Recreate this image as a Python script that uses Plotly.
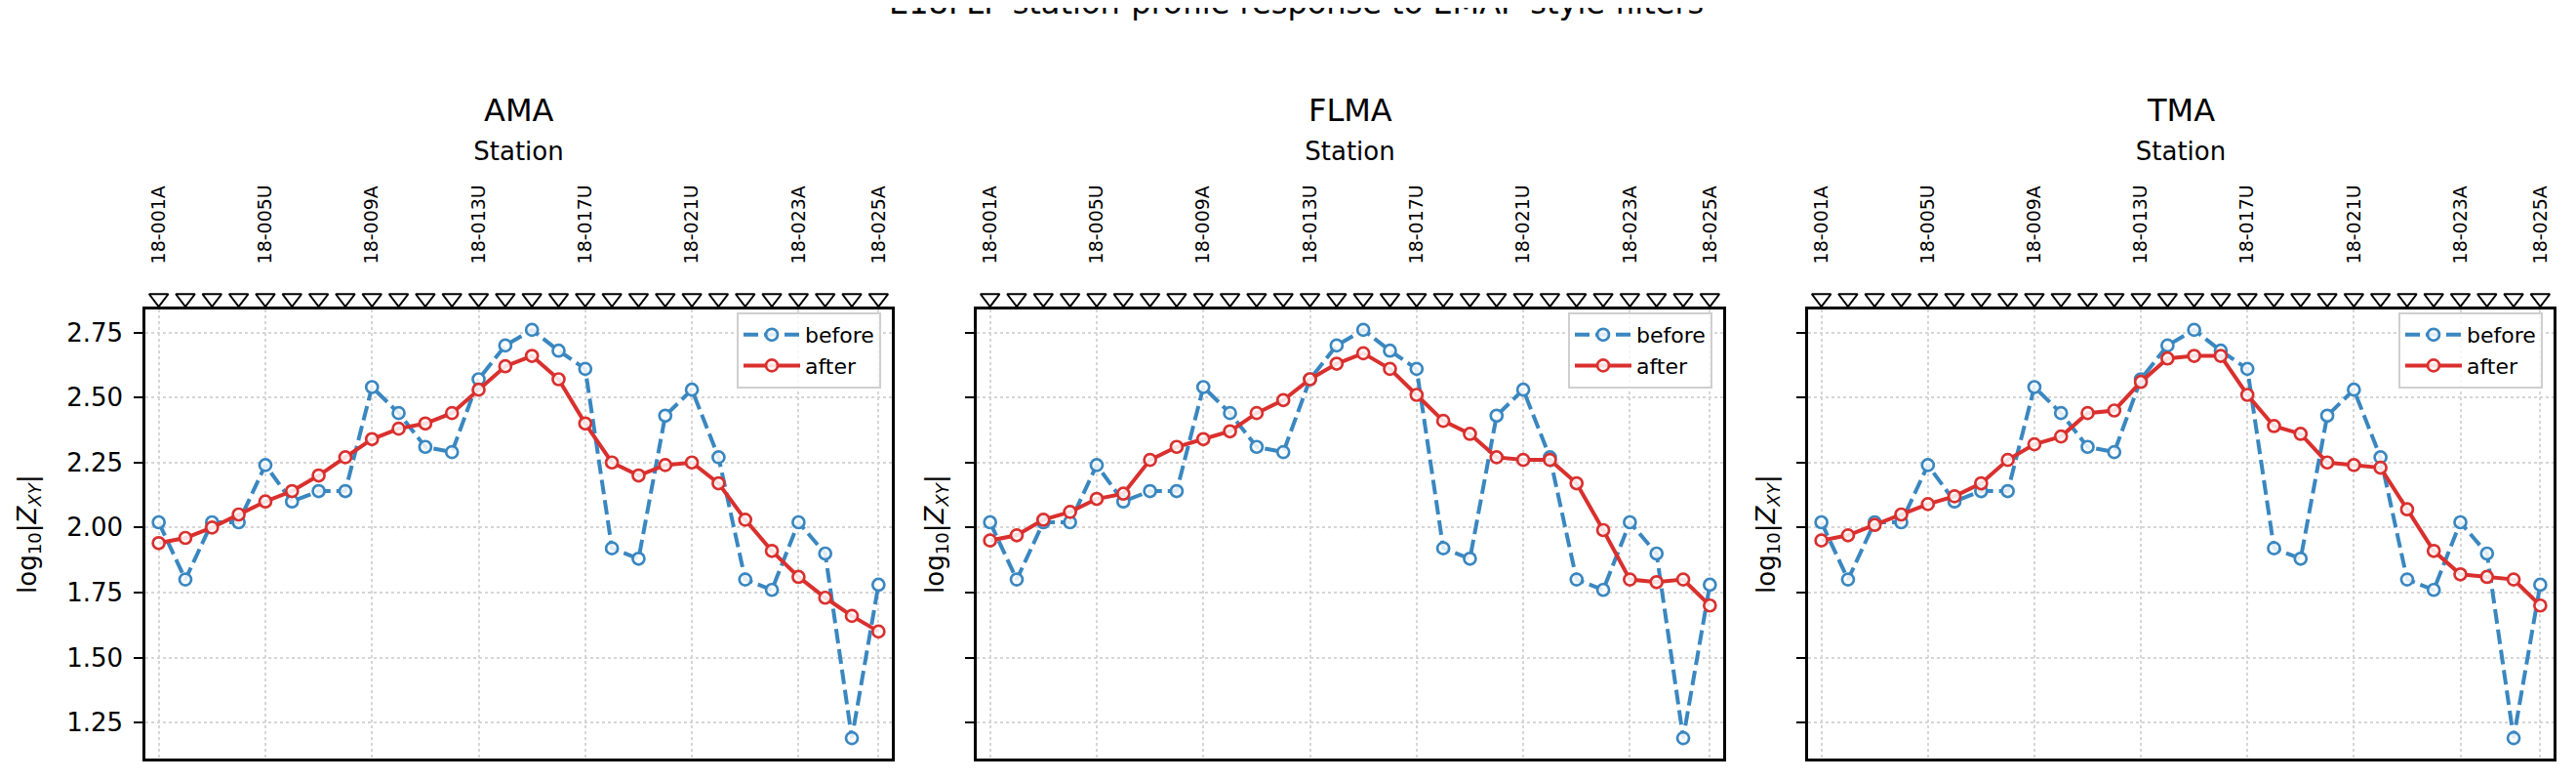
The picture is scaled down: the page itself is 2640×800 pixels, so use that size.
import plotly.graph_objects as go

W, H = 2640, 800

STATIONS = ["18-001A", "18-002A", "18-003U", "18-004A", "18-005U", "18-006A", "18-007U",
            "18-008A", "18-009A", "18-010U", "18-011A", "18-012U", "18-013U", "18-014A",
            "18-015U", "18-016A", "18-017U", "18-018A", "18-019U", "18-020A", "18-021U",
            "18-022A", "18-022U", "18-023U", "18-023A", "18-024A", "18-024U", "18-025A"]
TICK_STATIONS = ["18-001A", "18-005U", "18-009A", "18-013U", "18-017U", "18-021U",
                 "18-023A", "18-025A"]

BEFORE = [2.02, 1.80, 2.02, 2.02, 2.24, 2.10, 2.14, 2.14, 2.54, 2.44, 2.31, 2.29, 2.57, 2.70,
          2.76, 2.68, 2.61, 1.92, 1.88, 2.43, 2.53, 2.27, 1.80, 1.76, 2.02, 1.90, 1.19, 1.78]
AFTER_AMA = [1.94, 1.96, 2.00, 2.05, 2.10, 2.14, 2.20, 2.27, 2.34, 2.38, 2.40, 2.44, 2.53, 2.62,
             2.66, 2.57, 2.40, 2.25, 2.20, 2.24, 2.25, 2.17, 2.03, 1.91, 1.81, 1.73, 1.66, 1.60]
AFTER_FLMA = [1.95, 1.97, 2.03, 2.06, 2.11, 2.13, 2.26, 2.31, 2.34, 2.37, 2.44, 2.49, 2.57, 2.63,
              2.67, 2.61, 2.51, 2.41, 2.36, 2.27, 2.26, 2.26, 2.17, 1.99, 1.80, 1.79, 1.80, 1.70]
AFTER_TMA = [1.95, 1.97, 2.01, 2.05, 2.09, 2.12, 2.17, 2.26, 2.32, 2.35, 2.44, 2.45, 2.56, 2.65,
             2.66, 2.66, 2.51, 2.39, 2.36, 2.25, 2.24, 2.23, 2.07, 1.91, 1.82, 1.81, 1.80, 1.70]

PANELS = [("AMA", AFTER_AMA), ("FLMA", AFTER_FLMA), ("TMA", AFTER_TMA)]

BLUE = "#3a87c0"
RED = "#d9302e"
FONT = "DejaVu Sans"

# panel boxes in pixels (left, right), shared top/bottom
PX = [(141, 906), (993, 1758), (1845, 2609)]
TOP, BOT = 309, 769
STRIP = (285, 310)   # thin band above the frame for the station triangles

# shared y range like matplotlib's 5% margins
all_vals = BEFORE + AFTER_AMA + AFTER_FLMA + AFTER_TMA
lo, hi = min(all_vals), max(all_vals)
pad = 0.05 * (hi - lo)
yrange = [lo - pad, hi + pad]

fig = go.Figure()
layout = dict(
    width=W, height=H,
    paper_bgcolor="white", plot_bgcolor="rgba(0,0,0,0)",
    margin=dict(l=0, r=0, t=0, b=0),
    font=dict(family=FONT, color="black"),
    showlegend=True,
    annotations=[],
)

ydom = [1 - BOT / H, 1 - TOP / H]
sdom = [1 - STRIP[1] / H, 1 - STRIP[0] / H]

for i, (name, after) in enumerate(PANELS):
    n = i + 1
    sfx = "" if n == 1 else str(n)
    xa, ya = f"x{sfx}", f"y{sfx}"
    xs, ys = f"x{n + 3}", f"y{n + 3}"
    leg = "legend" if n == 1 else f"legend{n}"
    left, right = PX[i]
    xdom = [left / W, right / W]

    fig.add_trace(go.Scatter(
        x=STATIONS, y=BEFORE, name="before", xaxis=xa, yaxis=ya, legend=leg,
        mode="lines+markers",
        line=dict(color=BLUE, width=4, dash="15px,6px"),
        marker=dict(symbol="circle", size=12, color="rgba(255,255,255,0.85)",
                    line=dict(color=BLUE, width=2.7)),
    ))
    fig.add_trace(go.Scatter(
        x=STATIONS, y=after, name="after", xaxis=xa, yaxis=ya, legend=leg,
        mode="lines+markers",
        line=dict(color=RED, width=4),
        marker=dict(symbol="circle", size=12, color="rgba(255,255,255,0.85)",
                    line=dict(color=RED, width=2.7)),
    ))
    # station markers above the frame
    fig.add_trace(go.Scatter(
        x=STATIONS, y=[0.5] * len(STATIONS), xaxis=xs, yaxis=ys,
        mode="markers", showlegend=False, cliponaxis=False, hoverinfo="skip",
        marker=dict(symbol="triangle-down", size=17, color="white",
                    line=dict(color="black", width=2)),
    ))

    layout[f"xaxis{sfx}"] = dict(
        domain=xdom, anchor=ya, side="top",
        type="category", range=[-0.5, len(STATIONS) - 0.5],
        categoryorder="array", categoryarray=STATIONS,
        tickmode="array", tickvals=TICK_STATIONS, ticktext=TICK_STATIONS,
        tickangle=-90, ticks="", ticklabelstandoff=40,
        tickfont=dict(size=19, family=FONT),
        title=dict(text="Station", font=dict(size=26, family=FONT), standoff=18),
        showgrid=True, gridcolor="#d6d6d6", griddash="dot", gridwidth=2,
        showline=True, linecolor="black", linewidth=2.5, mirror=True,
        zeroline=False,
    )
    layout[f"yaxis{sfx}"] = dict(
        domain=ydom, anchor=xa, range=yrange,
        tickmode="linear", tick0=1.25, dtick=0.25, tickformat=".2f",
        ticks="outside", ticklen=9, tickwidth=2, tickcolor="black",
        showticklabels=(n == 1), ticklabelstandoff=6,
        tickfont=dict(size=26, family=FONT),
        showgrid=True, gridcolor="#d6d6d6", griddash="dot", gridwidth=2,
        showline=True, linecolor="black", linewidth=2.5, mirror=True,
        zeroline=False,
    )
    layout[f"xaxis{n + 3}"] = dict(
        domain=xdom, anchor=ys, type="category",
        categoryorder="array", categoryarray=STATIONS,
        range=[-0.5, len(STATIONS) - 0.5], visible=False, fixedrange=True,
    )
    layout[f"yaxis{n + 3}"] = dict(
        domain=sdom, anchor=xs, range=[0, 1], visible=False, fixedrange=True,
    )
    layout[leg] = dict(
        xref="paper", yref="paper",
        x=(right - 11) / W, xanchor="right",
        y=1 - (TOP + 3) / H, yanchor="top",
        bgcolor="rgba(255,255,255,0.8)", bordercolor="#cfcfcf", borderwidth=2,
        font=dict(size=22, family=FONT), itemwidth=58,
        tracegroupgap=0,
    )

    layout["annotations"].append(dict(
        text=name, xref="paper", yref="paper",
        x=(left + right) / 2 / W, y=1 - 105 / H, xanchor="center", yanchor="middle",
        showarrow=False, font=dict(size=32, family=FONT),
    ))
    ylab_off = 120 if n == 1 else 42
    layout["annotations"].append(dict(
        text="log<sub>10</sub>|<i>Z</i><sub><i>XY</i></sub>|", xref="paper", yref="paper",
        x=(left - ylab_off) / W, y=(ydom[0] + ydom[1]) / 2,
        xanchor="center", yanchor="middle", textangle=-90,
        showarrow=False, font=dict(size=26, family=FONT),
    ))

layout["annotations"].append(dict(
    text="E18FLP station-profile response to EMAP-style filters",
    xref="paper", yref="paper", x=0.5, y=1 + 5 / H, xanchor="center", yanchor="middle",
    showarrow=False, font=dict(size=32, family=FONT),
))

fig.update_layout(**layout)
fig.write_html("out.html")
